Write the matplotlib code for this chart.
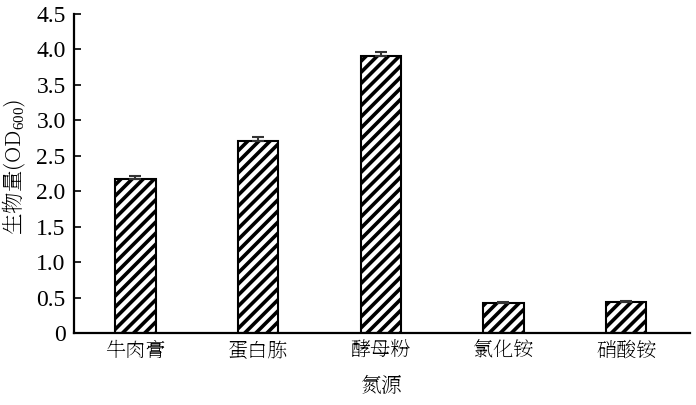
import matplotlib
matplotlib.use("Agg")
import matplotlib.pyplot as plt
from matplotlib.ticker import FixedLocator, FuncFormatter

categories = ["牛肉膏", "蛋白胨", "酵母粉", "氯化铵", "硝酸铵"]
values = [2.17, 2.71, 3.91, 0.43, 0.44]
errors = [0.04, 0.06, 0.05, 0.01, 0.01]
yticks = [0, 0.5, 1.0, 1.5, 2.0, 2.5, 3.0, 3.5, 4.0, 4.5]

SERIF = ['Liberation Serif', 'Noto Serif SC', 'Noto Serif CJK JP']
CJK = ['Noto Serif SC', 'Noto Serif CJK JP', 'Liberation Serif']
plt.rcParams['font.family'] = SERIF
plt.rcParams['mathtext.fontset'] = 'custom'
plt.rcParams['mathtext.rm'] = 'Liberation Serif'
plt.rcParams['mathtext.it'] = 'Liberation Serif:italic'
plt.rcParams['hatch.linewidth'] = 2.6
plt.rcParams['hatch.color'] = 'black'

fig = plt.figure(figsize=(6.96, 4.05), dpi=100)
ax = fig.add_axes([74/696, 1-333/405, (690-74)/696, (333-14)/405])

x = list(range(len(categories)))
ax.bar(x, values, width=0.33, color='white', edgecolor='black', linewidth=1.5,
       hatch='///', zorder=2)
ax.errorbar(x, values, yerr=[[0]*len(errors), errors], fmt='none', ecolor='#333333',
            elinewidth=1.5, capsize=4, capthick=1.5, zorder=3)

ax.set_xlim(-0.5, 4.52)
ax.set_ylim(0, 4.5)
ax.yaxis.set_major_locator(FixedLocator(yticks))
ax.yaxis.set_major_formatter(FuncFormatter(lambda v, p: "0" if v == 0 else f"{v:.1f}"))
ax.set_xticks(x)
ax.set_xticklabels(categories, fontfamily=CJK, fontsize=14.5)
for lab in ax.get_yticklabels():
    lab.set_fontfamily(['Liberation Serif'])
ax.tick_params(axis='x', length=0, pad=5)
ax.tick_params(axis='y', direction='in', length=5, width=1.2, labelsize=17, pad=6)
for s in ['top', 'right']:
    ax.spines[s].set_visible(False)
for s in ['left', 'bottom']:
    ax.spines[s].set_linewidth(1.6)

ax.set_ylabel("生物量(OD$_{\\mathrm{600}}$)", fontsize=15.5, family=CJK)
ax.yaxis.set_label_coords(-0.074, 0.52)
ax.set_xlabel("氮源", fontsize=15, family=CJK, labelpad=10)

fig.savefig("out.png", dpi=100)
